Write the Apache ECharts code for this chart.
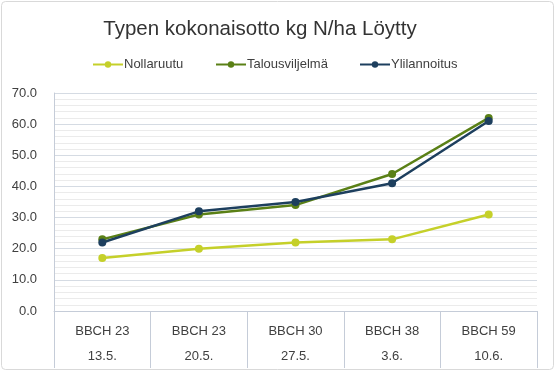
<!DOCTYPE html>
<html><head><meta charset="utf-8">
<script src="https://cdn.jsdelivr.net/npm/echarts@6/dist/echarts.min.js"></script>
<style>html,body{margin:0;padding:0;background:#fff}#c{width:557px;height:374px}</style>
</head><body><div id="c"></div>
<script>
const categories = ['BBCH 23\n13.5.', 'BBCH 23\n20.5.', 'BBCH 30\n27.5.', 'BBCH 38\n3.6.', 'BBCH 59\n10.6.'];
const nollaruutu = [17, 20, 22, 23, 31];
const talousviljelma = [23, 31, 34, 44, 62];
const ylilannoitus = [22, 32, 35, 41, 61];
const seriesNames = ['Nollaruutu', 'Talousviljelmä', 'Ylilannoitus'];
const colors = ['#c5d02a', '#5a8016', '#1d3f5e'];
const yTicks = [0, 10, 20, 30, 40, 50, 60, 70];

const font = 'Liberation Sans, Arial, sans-serif';
const chart = echarts.init(document.getElementById('c'), null, {renderer: 'canvas'});
const legendPos = [92, 215, 359];
const data = [nollaruutu, talousviljelma, ylilannoitus];
chart.setOption({
  animation: false,
  backgroundColor: '#fff',
  graphic: [{type: 'rect', shape: {x: 1.5, y: 1.5, width: 552, height: 368, r: 4}, style: {fill: 'none', stroke: '#d9d9d9', lineWidth: 1}, silent: true, z: -1}],
  title: {text: 'Typen kokonaisotto kg N/ha Löytty', left: 255, textAlign: 'center', top: 14,
    textStyle: {fontFamily: font, fontSize: 20.5, fontWeight: 'normal', color: '#333'}},
  legend: seriesNames.map((n, i) => ({data: [n], left: legendPos[i], top: 58, padding: 0, itemWidth: 30, itemHeight: 8, itemGap: 0,
    textStyle: {fontFamily: font, fontSize: 13, color: '#404040', padding: [0, 0, 0, -4]}})),
  grid: {left: 54, right: 20, top: 93, bottom: 63},
  xAxis: {type: 'category', data: categories, boundaryGap: true,
    axisLine: {lineStyle: {color: '#c5ccd8', width: 1}},
    axisTick: {show: true, length: 57, lineStyle: {color: '#c5ccd8', width: 1}},
    axisLabel: {fontFamily: font, fontSize: 13, color: '#404040', lineHeight: 25, margin: 8}},
  yAxis: {type: 'value', min: yTicks[0], max: yTicks[yTicks.length - 1], interval: 10,
    axisLine: {show: true, lineStyle: {color: '#c5ccd8'}},
    axisTick: {show: false},
    axisLabel: {fontFamily: font, fontSize: 13, color: '#404040', formatter: v => v.toFixed(1), margin: 17},
    splitLine: {lineStyle: {color: '#d5dbe3', width: 1}},
    minorTick: {show: false, splitNumber: 5},
    minorSplitLine: {show: true, lineStyle: {color: '#ebebeb', width: 1}}},
  series: seriesNames.map((n, i) => ({name: n, type: 'line', data: data[i], symbol: 'circle', symbolSize: 8,
    itemStyle: {color: colors[i]}, lineStyle: {color: colors[i], width: 2.5}}))
});
</script></body></html>
